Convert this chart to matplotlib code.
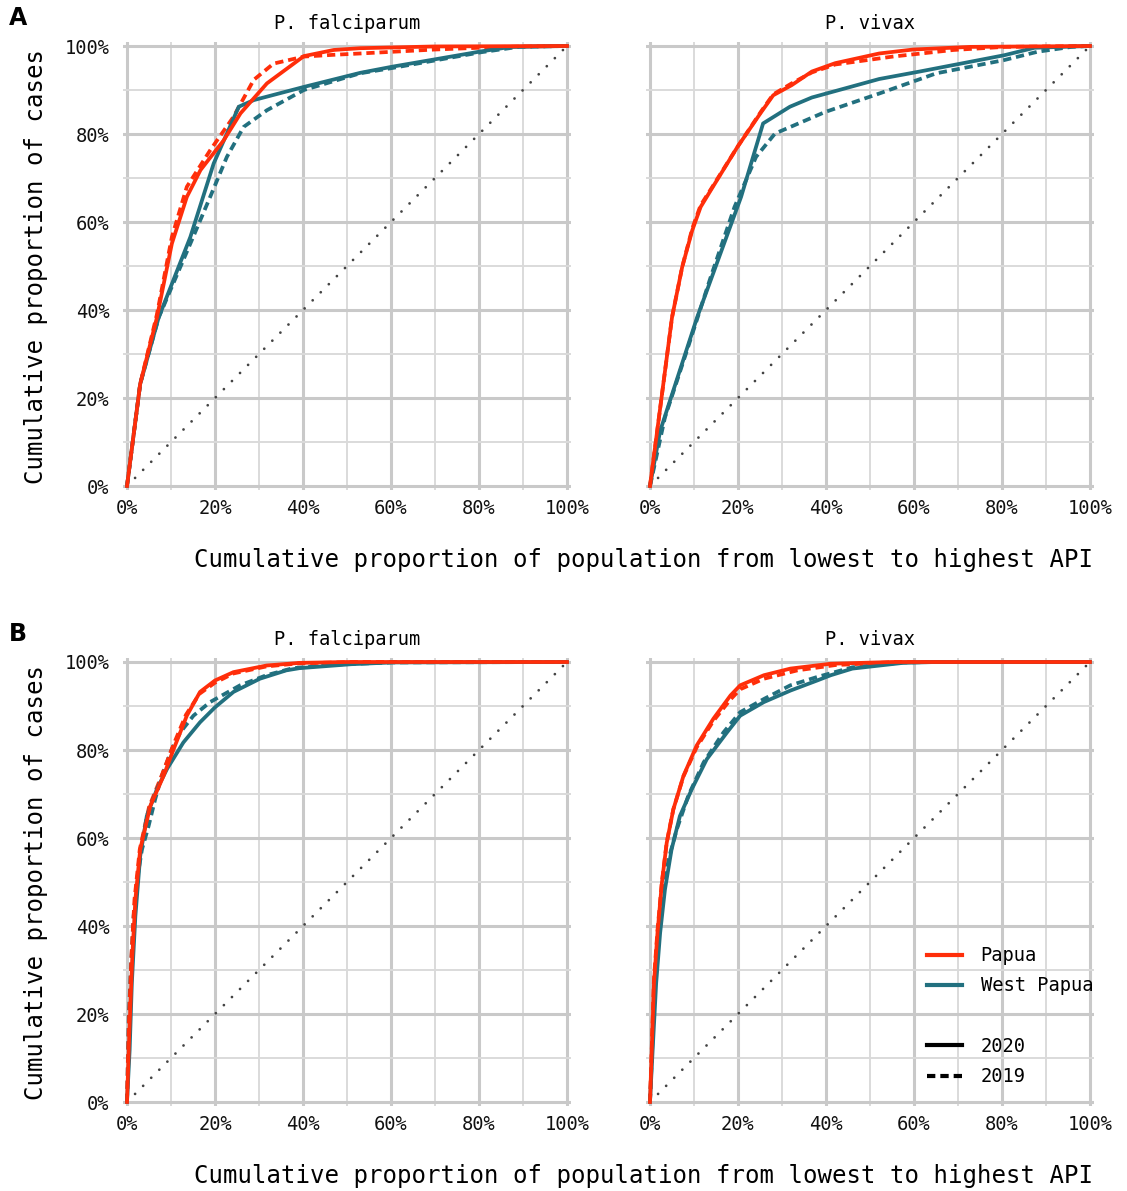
import numpy as np
import matplotlib
matplotlib.use("Agg")
import matplotlib.pyplot as plt
from matplotlib.lines import Line2D
from matplotlib.ticker import MultipleLocator, PercentFormatter

plt.rcParams['font.family'] = ['DejaVu Sans Mono']

RED = "#ff2e0a"
TEAL = "#22707f"

# --- A, P. falciparum
a_pf_papua_2020_x = [0, 0.030, 0.068, 0.102, 0.136, 0.167, 0.220, 0.258, 0.318, 0.402, 0.470, 0.530, 0.700, 1.0]
a_pf_papua_2020_y = [0, 0.232, 0.383, 0.551, 0.657, 0.718, 0.786, 0.847, 0.915, 0.977, 0.991, 0.995, 0.999, 1.0]
a_pf_papua_2019_x = [0, 0.030, 0.068, 0.102, 0.136, 0.189, 0.242, 0.288, 0.333, 0.402, 0.470, 0.530, 0.700, 0.850, 1.0]
a_pf_papua_2019_y = [0, 0.232, 0.390, 0.566, 0.680, 0.763, 0.839, 0.923, 0.960, 0.976, 0.980, 0.983, 0.992, 0.998, 1.0]
a_pf_west_2020_x = [0, 0.030, 0.072, 0.144, 0.197, 0.254, 0.288, 0.402, 0.530, 0.603, 0.806, 0.873, 1.0]
a_pf_west_2020_y = [0, 0.232, 0.383, 0.566, 0.733, 0.862, 0.877, 0.907, 0.939, 0.953, 0.988, 0.998, 1.0]
a_pf_west_2019_x = [0, 0.030, 0.072, 0.144, 0.189, 0.227, 0.265, 0.318, 0.402, 0.530, 0.603, 0.806, 0.890, 1.0]
a_pf_west_2019_y = [0, 0.232, 0.383, 0.551, 0.657, 0.748, 0.816, 0.854, 0.900, 0.938, 0.950, 0.986, 0.998, 1.0]

# --- A, P. vivax
a_pv_papua_2020_x = [0, 0.050, 0.073, 0.096, 0.115, 0.138, 0.199, 0.253, 0.280, 0.322, 0.368, 0.421, 0.521, 0.598, 0.728, 1.0]
a_pv_papua_2020_y = [0, 0.383, 0.497, 0.581, 0.634, 0.672, 0.771, 0.850, 0.888, 0.911, 0.942, 0.961, 0.983, 0.992, 0.998, 1.0]
a_pv_papua_2019_x = [0, 0.050, 0.073, 0.096, 0.115, 0.138, 0.199, 0.253, 0.280, 0.322, 0.368, 0.421, 0.552, 0.690, 0.805, 1.0]
a_pv_papua_2019_y = [0, 0.383, 0.497, 0.585, 0.638, 0.674, 0.771, 0.852, 0.890, 0.915, 0.940, 0.958, 0.976, 0.991, 0.998, 1.0]
a_pv_west_2020_x = [0, 0.023, 0.107, 0.207, 0.257, 0.318, 0.368, 0.521, 0.613, 0.805, 0.874, 1.0]
a_pv_west_2020_y = [0, 0.125, 0.383, 0.657, 0.824, 0.862, 0.883, 0.925, 0.942, 0.979, 0.996, 1.0]
a_pv_west_2019_x = [0, 0.034, 0.084, 0.138, 0.192, 0.241, 0.284, 0.398, 0.521, 0.651, 0.805, 0.881, 0.958, 1.0]
a_pv_west_2019_y = [0, 0.156, 0.308, 0.475, 0.634, 0.748, 0.801, 0.850, 0.892, 0.938, 0.968, 0.987, 0.998, 1.0]

# --- B, P. falciparum
b_pf_papua_2020_x = [0, 0.005, 0.012, 0.019, 0.030, 0.053, 0.083, 0.106, 0.136, 0.166, 0.200, 0.242, 0.317, 0.392, 0.500, 1.0]
b_pf_papua_2020_y = [0, 0.150, 0.330, 0.460, 0.574, 0.673, 0.741, 0.802, 0.878, 0.932, 0.958, 0.977, 0.992, 0.998, 1.0, 1.0]
b_pf_papua_2019_x = [0, 0.004, 0.010, 0.017, 0.029, 0.050, 0.080, 0.104, 0.134, 0.165, 0.200, 0.242, 0.317, 0.392, 0.520, 1.0]
b_pf_papua_2019_y = [0, 0.170, 0.330, 0.460, 0.574, 0.670, 0.745, 0.808, 0.880, 0.928, 0.953, 0.974, 0.990, 0.997, 1.0, 1.0]
b_pf_west_2020_x = [0, 0.006, 0.011, 0.019, 0.030, 0.045, 0.068, 0.091, 0.128, 0.166, 0.200, 0.242, 0.302, 0.362, 0.392, 0.510, 0.603, 1.0]
b_pf_west_2020_y = [0, 0.118, 0.270, 0.422, 0.559, 0.650, 0.711, 0.757, 0.817, 0.863, 0.897, 0.932, 0.962, 0.981, 0.986, 0.995, 0.999, 1.0]
b_pf_west_2019_x = [0, 0.004, 0.009, 0.015, 0.023, 0.034, 0.049, 0.064, 0.079, 0.102, 0.121, 0.151, 0.189, 0.257, 0.317, 0.377, 0.468, 0.603, 1.0]
b_pf_west_2019_y = [0, 0.194, 0.308, 0.422, 0.506, 0.574, 0.627, 0.688, 0.741, 0.802, 0.840, 0.878, 0.909, 0.947, 0.970, 0.986, 0.994, 0.999, 1.0]

# --- B, P. vivax
b_pv_papua_2020_x = [0, 0.004, 0.009, 0.017, 0.027, 0.038, 0.053, 0.076, 0.106, 0.144, 0.183, 0.205, 0.259, 0.319, 0.410, 0.550, 1.0]
b_pv_papua_2020_y = [0, 0.118, 0.270, 0.384, 0.498, 0.589, 0.665, 0.741, 0.810, 0.871, 0.924, 0.947, 0.970, 0.985, 0.996, 1.0, 1.0]
b_pv_papua_2019_x = [0, 0.004, 0.009, 0.017, 0.027, 0.038, 0.053, 0.076, 0.106, 0.144, 0.183, 0.205, 0.259, 0.335, 0.421, 0.560, 1.0]
b_pv_papua_2019_y = [0, 0.125, 0.280, 0.390, 0.500, 0.590, 0.665, 0.740, 0.806, 0.866, 0.915, 0.938, 0.962, 0.981, 0.993, 1.0, 1.0]
b_pv_west_2020_x = [0, 0.006, 0.014, 0.023, 0.034, 0.049, 0.068, 0.095, 0.129, 0.175, 0.205, 0.259, 0.319, 0.380, 0.411, 0.460, 0.575, 0.650, 1.0]
b_pv_west_2020_y = [0, 0.118, 0.270, 0.384, 0.483, 0.574, 0.650, 0.711, 0.779, 0.840, 0.878, 0.909, 0.935, 0.958, 0.970, 0.985, 0.998, 1.0, 1.0]
b_pv_west_2019_x = [0, 0.008, 0.015, 0.027, 0.042, 0.061, 0.087, 0.122, 0.167, 0.205, 0.259, 0.319, 0.380, 0.460, 0.575, 0.650, 1.0]
b_pv_west_2019_y = [0, 0.194, 0.346, 0.452, 0.551, 0.620, 0.696, 0.772, 0.840, 0.886, 0.916, 0.947, 0.966, 0.988, 0.999, 1.0, 1.0]

panels = [
    ("P. falciparum", a_pf_papua_2020_x, a_pf_papua_2020_y, a_pf_papua_2019_x, a_pf_papua_2019_y,
     a_pf_west_2020_x, a_pf_west_2020_y, a_pf_west_2019_x, a_pf_west_2019_y),
    ("P. vivax", a_pv_papua_2020_x, a_pv_papua_2020_y, a_pv_papua_2019_x, a_pv_papua_2019_y,
     a_pv_west_2020_x, a_pv_west_2020_y, a_pv_west_2019_x, a_pv_west_2019_y),
    ("P. falciparum", b_pf_papua_2020_x, b_pf_papua_2020_y, b_pf_papua_2019_x, b_pf_papua_2019_y,
     b_pf_west_2020_x, b_pf_west_2020_y, b_pf_west_2019_x, b_pf_west_2019_y),
    ("P. vivax", b_pv_papua_2020_x, b_pv_papua_2020_y, b_pv_papua_2019_x, b_pv_papua_2019_y,
     b_pv_west_2020_x, b_pv_west_2020_y, b_pv_west_2019_x, b_pv_west_2019_y),
]

W, H = 1127, 1191
fig = plt.figure(figsize=(W / 100, H / 100), dpi=100)

PAD = 0.008
LW = 2.7
DASH = (2.2, 1.3)


def px_axes(x0, y_top):
    # x0, y_top: pixel position of the data (0, 1) corner; data span 440 px
    span = 440
    left = x0 - PAD * span
    top = y_top - PAD * span
    size = span * (1 + 2 * PAD)
    return fig.add_axes([left / W, 1 - (top + size) / H, size / W, size / H])


positions = [(127, 46), (650, 46), (127, 662), (650, 662)]

axes = []
for i, (pos, p) in enumerate(zip(positions, panels)):
    ax = px_axes(*pos)
    axes.append(ax)
    title, rx20, ry20, rx19, ry19, wx20, wy20, wx19, wy19 = p
    ax.set_xlim(-PAD, 1 + PAD)
    ax.set_ylim(-PAD, 1 + PAD)
    for s in ax.spines.values():
        s.set_visible(False)
    ax.xaxis.set_major_locator(MultipleLocator(0.2))
    ax.yaxis.set_major_locator(MultipleLocator(0.2))
    ax.xaxis.set_minor_locator(MultipleLocator(0.1))
    ax.yaxis.set_minor_locator(MultipleLocator(0.1))
    ax.xaxis.set_major_formatter(PercentFormatter(1.0, decimals=0))
    ax.yaxis.set_major_formatter(PercentFormatter(1.0, decimals=0))
    ax.grid(which="major", color="#c9c9c9", lw=2.2)
    ax.grid(which="minor", color="#dadada", lw=1.4)
    ax.set_axisbelow(True)
    ax.tick_params(which="both", length=0, labelsize=13.5, colors="#111111")
    ax.tick_params(axis="x", pad=7)
    ax.tick_params(axis="y", pad=10)
    if i % 2 == 1:
        ax.tick_params(axis="y", labelleft=False)
    else:
        ax.set_ylabel("Cumulative proportion of cases", fontsize=17.3, labelpad=12)
    ax.set_title(title, fontsize=13.5, pad=10)

    # equality line, round dots
    ax.plot([0, 1], [0, 1], color="#444444", lw=2.0, linestyle=(0, (0.01, 4.1)),
            dash_capstyle="round", zorder=2)
    ax.plot(wx19, wy19, color=TEAL, lw=LW, dashes=DASH, zorder=3)
    ax.plot(rx19, ry19, color=RED, lw=LW, dashes=DASH, zorder=3)
    ax.plot(wx20, wy20, color=TEAL, lw=LW, zorder=4)
    ax.plot(rx20, ry20, color=RED, lw=LW, zorder=4)

# x labels, right aligned
xlabel = "Cumulative proportion of population from lowest to highest API"
fig.text(1093 / W, 1 - 560 / H, xlabel, ha="right", va="center", fontsize=17.3)
fig.text(1093 / W, 1 - 1176 / H, xlabel, ha="right", va="center", fontsize=17.3)

fig.text(9 / W, 1 - 18 / H, "A", fontsize=17, fontweight="bold", family="DejaVu Sans",
         ha="left", va="center")
fig.text(9 / W, 1 - 634 / H, "B", fontsize=17, fontweight="bold", family="DejaVu Sans",
         ha="left", va="center")

handles = [
    Line2D([], [], color=RED, lw=3),
    Line2D([], [], color=TEAL, lw=3),
    Line2D([], [], color="none", lw=0),
    Line2D([], [], color="black", lw=3),
    Line2D([], [], color="black", lw=3, dashes=(2, 1.2)),
]
labels = ["Papua", "West Papua", "", "2020", "2019"]
axes[3].legend(handles, labels, loc="center left", bbox_to_anchor=(0.628, 0.2),
               frameon=False, fontsize=13.5, handlelength=1.85, handletextpad=1.0,
               labelspacing=0.6, borderpad=0, borderaxespad=0)

fig.savefig("out.png", dpi=100)
